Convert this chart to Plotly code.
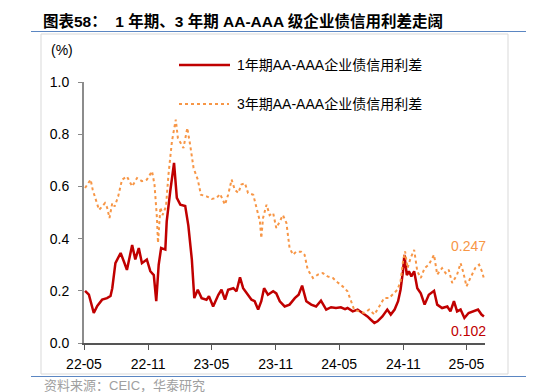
import plotly.graph_objects as go

# ---------------- data ----------------
dates_1y = [
    "2022-05-04", "2022-05-15", "2022-05-29", "2022-06-08", "2022-06-22", "2022-07-06",
    "2022-07-16", "2022-07-21", "2022-07-30", "2022-08-14", "2022-08-23", "2022-09-01",
    "2022-09-16", "2022-09-25", "2022-10-05", "2022-10-14", "2022-10-28", "2022-11-07",
    "2022-11-17", "2022-11-24", "2022-12-01", "2022-12-08", "2022-12-20", "2022-12-24",
    "2023-01-03", "2023-01-14", "2023-01-22", "2023-02-01", "2023-02-15", "2023-02-24",
    "2023-03-06", "2023-03-13", "2023-03-23", "2023-04-03", "2023-04-17", "2023-04-24",
    "2023-05-06", "2023-05-21", "2023-05-30", "2023-06-09", "2023-06-18", "2023-07-03",
    "2023-07-12", "2023-07-22", "2023-07-31", "2023-08-10", "2023-08-24", "2023-09-02",
    "2023-09-12", "2023-09-21", "2023-09-29", "2023-10-10", "2023-10-25", "2023-11-03",
    "2023-11-13", "2023-11-27", "2023-12-11", "2023-12-26", "2024-01-06", "2024-01-16",
    "2024-01-28", "2024-02-11", "2024-02-25", "2024-03-10", "2024-03-25", "2024-04-08",
    "2024-04-22", "2024-05-06", "2024-05-18", "2024-05-25", "2024-06-09", "2024-06-23",
    "2024-07-07", "2024-07-21", "2024-07-31", "2024-08-10", "2024-08-19", "2024-09-02",
    "2024-09-16", "2024-09-26", "2024-10-07", "2024-10-17", "2024-10-24", "2024-10-31",
    "2024-11-04", "2024-11-11", "2024-11-17", "2024-11-24", "2024-12-02", "2024-12-11",
    "2024-12-21", "2025-01-01", "2025-01-13", "2025-01-28", "2025-02-06", "2025-02-20",
    "2025-03-07", "2025-03-16", "2025-03-26", "2025-04-04", "2025-04-14", "2025-04-25",
    "2025-05-07", "2025-05-22", "2025-06-03", "2025-06-13", "2025-06-20",
]
spread_1y = [
    0.200, 0.185, 0.115, 0.142, 0.166, 0.172,
    0.180, 0.210, 0.306, 0.345, 0.313, 0.280,
    0.375, 0.320, 0.364, 0.306, 0.320, 0.275,
    0.260, 0.160, 0.300, 0.364, 0.358, 0.466,
    0.580, 0.690, 0.556, 0.530, 0.525, 0.450,
    0.320, 0.172, 0.204, 0.172, 0.166, 0.179,
    0.140, 0.185, 0.204, 0.166, 0.204, 0.210,
    0.198, 0.252, 0.210, 0.190, 0.166, 0.160,
    0.128, 0.160, 0.210, 0.185, 0.198, 0.190,
    0.160, 0.140, 0.147, 0.172, 0.185, 0.220,
    0.160, 0.147, 0.140, 0.162, 0.128, 0.137,
    0.134, 0.137, 0.130, 0.134, 0.121, 0.128,
    0.115, 0.102, 0.089, 0.077, 0.083, 0.102,
    0.128, 0.109, 0.128, 0.160, 0.204, 0.275,
    0.338, 0.260, 0.275, 0.255, 0.275, 0.210,
    0.190, 0.147, 0.185, 0.200, 0.147, 0.134,
    0.140, 0.121, 0.160, 0.121, 0.128, 0.096,
    0.115, 0.121, 0.128, 0.109, 0.102,
]

dates_3y = [
    "2022-05-04", "2022-05-20", "2022-05-26", "2022-06-13", "2022-06-20", "2022-06-30",
    "2022-07-06", "2022-07-13", "2022-07-21", "2022-07-28", "2022-08-07", "2022-08-18",
    "2022-09-01", "2022-09-16", "2022-09-30", "2022-10-14", "2022-10-28", "2022-11-12",
    "2022-11-19", "2022-11-26", "2022-11-29", "2022-12-06", "2022-12-12", "2022-12-22",
    "2022-12-29", "2023-01-08", "2023-01-19", "2023-01-25", "2023-02-10", "2023-02-21",
    "2023-03-01", "2023-03-11", "2023-03-23", "2023-04-01", "2023-04-17", "2023-05-02",
    "2023-05-16", "2023-05-26", "2023-06-09", "2023-06-18", "2023-06-28", "2023-07-07",
    "2023-07-17", "2023-07-26", "2023-08-05", "2023-08-14", "2023-08-29", "2023-09-07",
    "2023-09-17", "2023-09-21", "2023-09-26", "2023-10-06", "2023-10-15", "2023-10-25",
    "2023-11-03", "2023-11-13", "2023-11-22", "2023-12-02", "2023-12-11", "2023-12-21",
    "2023-12-30", "2024-01-13", "2024-01-23", "2024-02-01", "2024-02-16", "2024-03-01",
    "2024-03-15", "2024-03-29", "2024-04-13", "2024-04-27", "2024-05-11", "2024-05-25",
    "2024-06-04", "2024-06-13", "2024-06-28", "2024-07-12", "2024-07-26", "2024-08-10",
    "2024-08-24", "2024-09-07", "2024-09-21", "2024-10-06", "2024-10-15", "2024-10-24",
    "2024-10-31", "2024-11-06", "2024-11-13", "2024-11-22", "2024-12-02", "2024-12-11",
    "2024-12-21", "2025-01-01", "2025-01-13", "2025-01-28", "2025-02-06", "2025-02-20",
    "2025-03-02", "2025-03-11", "2025-03-21", "2025-04-04", "2025-04-14", "2025-04-21",
    "2025-05-01", "2025-05-12", "2025-05-26", "2025-06-06", "2025-06-14", "2025-06-20",
]
spread_3y = [
    0.594, 0.626, 0.587, 0.510, 0.520, 0.536,
    0.520, 0.479, 0.536, 0.523, 0.562, 0.626,
    0.638, 0.600, 0.632, 0.620, 0.626, 0.658,
    0.607, 0.479, 0.383, 0.520, 0.490, 0.523,
    0.645, 0.773, 0.856, 0.785, 0.747, 0.824,
    0.760, 0.670, 0.626, 0.568, 0.562, 0.552,
    0.556, 0.571, 0.530, 0.568, 0.626, 0.587,
    0.575, 0.607, 0.613, 0.575, 0.568, 0.517,
    0.466, 0.402, 0.479, 0.530, 0.490, 0.498,
    0.440, 0.466, 0.490, 0.460, 0.364, 0.338,
    0.350, 0.350, 0.338, 0.281, 0.249, 0.262,
    0.268, 0.255, 0.249, 0.232, 0.217, 0.198,
    0.160, 0.128, 0.121, 0.115, 0.128, 0.109,
    0.140, 0.172, 0.172, 0.190, 0.204, 0.236,
    0.313, 0.351, 0.287, 0.326, 0.357, 0.275,
    0.249, 0.287, 0.300, 0.338, 0.262, 0.287,
    0.268, 0.281, 0.230, 0.262, 0.306, 0.275,
    0.217, 0.249, 0.287, 0.300, 0.275, 0.247,
]

series_names = ["1年期AA-AAA企业债信用利差", "3年期AA-AAA企业债信用利差"]
x_tick_vals = ["2022-05-01", "2022-11-01", "2023-05-01", "2023-11-01",
               "2024-05-01", "2024-11-01", "2025-05-01"]
x_tick_text = ["22-05", "22-11", "23-05", "23-11", "24-05", "24-11", "25-05"]
y_tick_vals = [0.0, 0.2, 0.4, 0.6, 0.8, 1.0]

title_text = "图表58：  1 年期、3 年期 AA-AAA 级企业债信用利差走阔"
unit_text = "(%)"
source_text = "资料来源：CEIC，华泰研究"

# ---------------- style ----------------
RED = "#C00000"
ORANGE = "#F79646"
FONT = "Liberation Sans, Arial, Noto Sans CJK SC, sans-serif"

fig = go.Figure()
fig.add_trace(go.Scatter(x=dates_1y, y=spread_1y, mode="lines", name=series_names[0],
                         line=dict(color=RED, width=2.5)))
fig.add_trace(go.Scatter(x=dates_3y, y=spread_3y, mode="lines", name=series_names[1],
                         line=dict(color=ORANGE, width=2, dash="dot")))

W, H = 534, 392
L, R, T, B = 76, 57, 74, 57
pw, ph = W - L - R, H - T - B


def px(xp):
    return (xp - L) / pw


def py(yp):
    return (H - B - yp) / ph


shapes = [
    # outer light-grey frame
    dict(type="rect", xref="paper", yref="paper", x0=px(33), x1=px(500), y0=py(366), y1=py(26),
         line=dict(color="#D9D9D9", width=1), layer="below"),
    # blue rules
    dict(type="line", xref="paper", yref="paper", x0=px(23), x1=px(534), y0=py(23.5), y1=py(23.5),
         line=dict(color="#5B86C2", width=1.2)),
    dict(type="line", xref="paper", yref="paper", x0=px(23), x1=px(534), y0=py(368.5), y1=py(368.5),
         line=dict(color="#5B86C2", width=1.2)),
    # legend samples
    dict(type="line", xref="paper", yref="paper", x0=px(171), x1=px(222), y0=py(57), y1=py(57),
         line=dict(color=RED, width=2.5)),
    dict(type="line", xref="paper", yref="paper", x0=px(171), x1=px(221), y0=py(96), y1=py(96),
         line=dict(color=ORANGE, width=2, dash="dot")),
]

annotations = [
    dict(text=unit_text, xref="paper", yref="paper", x=px(41), y=py(42), xanchor="left",
         yanchor="middle", showarrow=False, font=dict(size=14, color="#000")),
    dict(text=series_names[0], xref="paper", yref="paper", x=px(227), y=py(57), xanchor="left",
         yanchor="middle", showarrow=False, font=dict(size=14, color="#000")),
    dict(text=series_names[1], xref="paper", yref="paper", x=px(227), y=py(96), xanchor="left",
         yanchor="middle", showarrow=False, font=dict(size=14, color="#000")),
    dict(text=f"{spread_3y[-1]:.3f}", xref="paper", yref="paper", x=px(460), y=py(238),
         xanchor="center", yanchor="middle", showarrow=False, font=dict(size=14, color=ORANGE)),
    dict(text=f"{spread_1y[-1]:.3f}", xref="paper", yref="paper", x=px(460), y=py(323),
         xanchor="center", yanchor="middle", showarrow=False, font=dict(size=14, color=RED)),
    dict(text=source_text, xref="paper", yref="paper", x=px(34), y=py(377.5), xanchor="left",
         yanchor="middle", showarrow=False, font=dict(size=13, color="#A0A0A0")),
]

fig.update_layout(
    width=W, height=H,
    margin=dict(l=L, r=R, t=T, b=B),
    paper_bgcolor="white", plot_bgcolor="white",
    showlegend=False,
    font=dict(family=FONT, size=14, color="#000"),
    title=dict(text=f"<b>{title_text}</b>", xref="container", yref="container",
               x=35 / W, y=1 - 14 / H, xanchor="left", yanchor="middle",
               font=dict(size=15.5, color="#000")),
    shapes=shapes,
    annotations=annotations,
)
fig.update_xaxes(
    type="date", range=["2022-05-01", "2025-06-23"],
    tickvals=x_tick_vals, ticktext=x_tick_text,
    ticks="outside", ticklen=5, tickcolor="#555", tickwidth=1,
    showline=True, linecolor="#555", linewidth=1.5,
    showgrid=False, zeroline=False,
    ticklabelstandoff=2,
    tickfont=dict(size=14, color="#000"),
)
fig.update_yaxes(
    range=[0, 1], tickvals=y_tick_vals, tickformat=".1f",
    ticks="outside", ticklen=4, tickcolor="#888", tickwidth=1,
    showline=True, linecolor="#8C8C8C", linewidth=2,
    showgrid=False, zeroline=False,
    ticklabelstandoff=6,
    tickfont=dict(size=14, color="#000"),
)

fig.write_html("out.html")
